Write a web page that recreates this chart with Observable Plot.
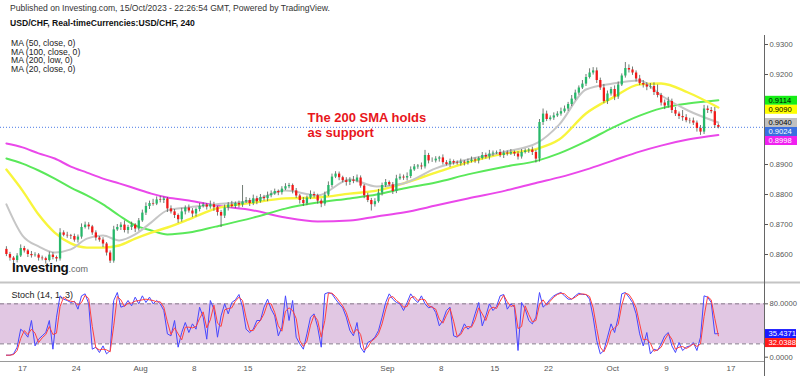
<!DOCTYPE html>
<html><head><meta charset="utf-8">
<script src="https://cdn.jsdelivr.net/npm/d3@7"></script>
<script src="https://cdn.jsdelivr.net/npm/@observablehq/plot@0.6"></script>
<style>
html,body{margin:0;padding:0;background:#fff;}
#wrap{position:relative;width:800px;height:376px;overflow:hidden;font-family:"Liberation Sans",Arial,sans-serif;background:#fff;}
#wrap svg{position:absolute;left:0;}
.ov{position:absolute;white-space:nowrap;line-height:1;}
</style></head>
<body><div id="wrap"></div>
<script>
// ---------- data ----------
const startT = -1.5;          // trading days relative to Mon 17 Jul 2023
const stepT = 1 / 3;          // one candle every 8 hours
const firstOpen = 0.8617;
const closes = [
0.8600,0.8588,0.8580,0.8595,0.8620,0.8612,0.8600,0.8596,0.8598,0.8588,
0.8586,0.8580,0.8598,0.8590,0.8585,0.8672,0.8664,0.8662,0.8660,0.8648,
0.8658,0.8690,0.8698,0.8692,0.8672,0.8655,0.8648,0.8635,0.8605,0.8578,
0.8682,0.8690,0.8698,0.8680,0.8690,0.8698,0.8685,0.8712,0.8738,0.8760,
0.8770,0.8768,0.8782,0.8780,0.8785,0.8752,0.8742,0.8730,0.8716,0.8742,
0.8755,0.8745,0.8735,0.8750,0.8760,0.8765,0.8758,0.8766,0.8756,0.8740,
0.8728,0.8755,0.8765,0.8760,0.8770,0.8765,0.8775,0.8780,0.8770,0.8786,
0.8776,0.8790,0.8786,0.8796,0.8802,0.8810,0.8806,0.8818,0.8826,0.8830,
0.8812,0.8795,0.8780,0.8770,0.8788,0.8800,0.8796,0.8778,0.8768,0.8798,
0.8830,0.8858,0.8868,0.8856,0.8846,0.8840,0.8848,0.8844,0.8855,0.8828,
0.8796,0.8780,0.8766,0.8776,0.8805,0.8830,0.8840,0.8832,0.8810,0.8852,
0.8858,0.8855,0.8860,0.8882,0.8892,0.8895,0.8892,0.8930,0.8912,0.8912,
0.8918,0.8922,0.8906,0.8900,0.8910,0.8905,0.8903,0.8908,0.8905,0.8910,
0.8915,0.8912,0.8920,0.8930,0.8925,0.8935,0.8938,0.8940,0.8930,0.8938,
0.8935,0.8940,0.8935,0.8925,0.8940,0.8945,0.8948,0.8940,0.8918,0.9040,
0.9068,0.9050,0.9055,0.9062,0.9068,0.9076,0.9085,0.9100,0.9118,0.9138,
0.9155,0.9168,0.9190,0.9205,0.9212,0.9180,0.9155,0.9110,0.9135,0.9150,
0.9125,0.9165,0.9195,0.9220,0.9215,0.9205,0.9185,0.9170,0.9165,0.9158,
0.9160,0.9140,0.9130,0.9105,0.9095,0.9110,0.9080,0.9068,0.9060,0.9056,
0.9046,0.9045,0.9038,0.9020,0.9008,0.9085,0.9080,0.9076,0.9030,0.9024];
// upper / lower wick beyond the body, in pips
const wickUp = [
9,7,5,8,12,7,5,10,8,5,7,5,10,8,5,14,7,10,5,8,
7,12,10,8,5,7,5,8,5,7,12,10,8,14,7,10,5,8,10,12,
8,14,10,12,7,5,10,8,5,12,7,10,8,5,10,7,5,12,8,5,
7,10,8,12,5,8,55,10,7,12,8,10,7,12,10,8,5,8,10,7,
5,8,5,10,7,12,8,5,7,10,12,10,8,7,5,10,8,12,10,7,
5,8,7,10,12,8,10,5,8,12,10,7,12,10,8,5,10,17,7,10,
8,5,10,7,8,5,7,10,5,8,10,7,5,10,8,12,7,5,10,8,
7,10,5,8,10,7,5,10,8,10,17,10,7,10,8,12,10,7,12,10,
7,12,10,14,11,10,8,12,10,7,12,10,7,20,12,10,7,12,10,8,
10,12,25,7,10,14,8,10,7,20,10,8,10,7,10,12,10,10,14,5];
const wickDn = [
7,10,12,8,5,7,10,8,5,10,7,12,5,8,10,7,5,8,10,7,
10,7,5,10,8,10,7,12,10,8,7,5,10,8,12,10,12,7,5,8,
10,7,5,8,10,12,7,10,12,8,10,7,12,10,8,5,10,7,12,12,
38,8,10,5,7,10,8,5,10,7,10,5,8,10,7,5,10,8,5,7,
10,8,12,10,7,5,8,10,12,7,5,8,5,10,7,12,10,8,5,7,
10,7,21,8,5,10,7,5,10,7,5,8,10,7,5,8,10,7,10,5,
7,10,8,5,10,7,5,8,10,7,5,8,10,5,7,10,8,5,7,10,
7,5,8,10,7,5,8,10,13,10,10,7,5,8,5,7,5,8,7,5,
7,5,8,5,7,10,8,7,10,7,12,8,5,7,10,8,10,7,10,12,
7,10,8,10,12,7,10,8,10,12,7,10,8,12,11,8,10,7,10,5];
// moving averages, sampled along the same trading-day axis
const maT = [-1.5,0,1.5,3,4.5,6,7.5,9,10.5,12,13.5,15.5,18,21.5,24.5,27.5,30.5,33,35.5,38.5,41.5,45,48,50,52.5,55,57.5,59.5,62,64.83];
const ma200 = [0.8970,0.8957,0.8937,0.8920,0.8893,0.8873,0.8853,0.8837,0.8820,0.8803,0.8790,0.8780,0.8763,0.8747,0.8723,0.8710,0.8713,0.8727,0.8740,0.8763,0.8787,0.8813,0.8840,0.8857,0.8883,0.8913,0.8943,0.8963,0.8983,0.8998];
const ma100 = [0.8920,0.8903,0.8880,0.8853,0.8823,0.8797,0.8767,0.8730,0.8697,0.8680,0.8667,0.8673,0.8693,0.8723,0.8753,0.8773,0.8787,0.8800,0.8820,0.8840,0.8867,0.8893,0.8913,0.8937,0.8977,0.9023,0.9063,0.9087,0.9103,0.9114];
const ma50 = [0.8883,0.8813,0.8733,0.8673,0.8637,0.8623,0.8623,0.8630,0.8653,0.8673,0.8690,0.8717,0.8753,0.8773,0.8787,0.8790,0.8803,0.8813,0.8837,0.8873,0.8907,0.8937,0.8953,0.8983,0.9070,0.9123,0.9167,0.9170,0.9140,0.9090];
const ma20 = [0.8767,0.8663,0.8627,0.8607,0.8617,0.8653,0.8663,0.8647,0.8667,0.8707,0.8747,0.8757,0.8767,0.8780,0.8813,0.8797,0.8850,0.8827,0.8837,0.8887,0.8917,0.8943,0.8973,0.9033,0.9150,0.9170,0.9180,0.9130,0.9080,0.9040];
// stochastic (14,1,3)
const stochK = [
3,3,5,15,42,37,30,55,17,27,32,37,55,12,60,92,87,85,82,84,
72,92,95,80,12,15,7,17,5,10,85,97,75,77,85,77,90,80,92,82,
90,80,85,80,70,35,32,55,15,37,52,37,50,42,75,60,27,85,72,30,
62,80,65,82,86,94,75,42,37,42,55,55,75,87,72,62,32,45,92,55,
85,30,20,12,35,60,65,45,15,95,97,95,87,80,74,60,40,32,52,15,
7,22,25,30,40,60,82,95,87,82,80,70,82,95,87,82,92,80,74,76,
67,47,55,70,75,32,30,37,50,42,47,65,82,47,62,80,70,76,92,94,
72,80,75,10,82,72,55,50,60,97,75,80,87,92,95,97,92,87,87,92,
96,94,94,87,60,25,5,10,30,50,37,60,95,97,90,82,65,35,17,37,
5,12,10,20,32,37,17,7,22,10,15,17,22,10,30,92,90,82,35,35.4371];
const stochD = [
3,3,4,10,28,40,34,42,36,22,29,34,46,34,36,76,90,86,84,83,
78,82,93,88,46,14,11,12,11,8,47,91,86,76,81,81,84,85,86,87,
86,85,83,83,75,53,34,44,35,26,45,45,44,46,58,68,44,56,78,51,
46,71,73,74,84,90,85,59,40,40,49,55,65,81,80,67,47,39,69,74,
70,58,25,16,24,48,63,55,30,55,96,96,91,84,77,67,50,36,42,34,
11,15,24,28,35,50,71,89,91,85,81,75,76,89,91,85,87,86,77,75,
72,57,51,63,73,54,31,34,44,46,45,56,74,65,55,71,75,73,84,93,
83,76,78,43,46,77,64,53,55,79,86,78,84,90,94,96,95,90,87,90,
94,95,94,91,74,43,15,8,20,40,44,49,78,96,94,86,74,50,26,27,
21,9,11,15,26,35,27,12,15,16,13,16,20,16,20,61,91,86,58,32.0388];
const tickT = [0,5,11,16,21,26,34,39,44,49,55,60,66];
const tickLabels = ["17","24","Aug","8","15","22","Sep","8","15","22","Oct","9","17"];
const priceTicks = [0.86,0.87,0.88,0.89,0.92,0.93];
const stochTicks = [0,80];
const stochBand = [20,80];

// ---------- derived rows ----------
const candles = closes.map((c, i) => {
  const o = i ? closes[i - 1] : firstOpen;
  return {t: startT + i * stepT, o, c, h: Math.max(o, c) + wickUp[i] / 10000, l: Math.min(o, c) - wickDn[i] / 10000};
});
const maRows = (arr) => arr.map((v, i) => ({t: maT[i], v}));
const stochRows = stochK.map((k, i) => ({t: startT + i * stepT, k, d: stochD[i]}));

// ---------- scales (pixel calibration) ----------
const FONT = '"Liberation Sans", Arial, sans-serif';
const AX = 7.6;                                   // axis font size
const FR = 764;                                   // right edge of plotting frame
const xPix = d3.scaleLinear().domain([0, 60]).range([22, 666]);
const xDom = [xPix.invert(0), xPix.invert(FR)];
const H1 = 282, P_TOP = 35, P_BOT = 281;
const yPix = d3.scaleLinear().domain([0.86, 0.93]).range([254, 44]);
const yDom = [yPix.invert(P_BOT), yPix.invert(P_TOP)];

function dodge(items, pix, gap) {
  const arr = items.map(d => ({...d, py: pix(d.v)})).sort((a, b) => a.py - b.py);
  let prev = -Infinity;
  for (const d of arr) { const cy = Math.max(d.py, prev + gap); d.dy = cy - d.py; prev = cy; }
  return arr;
}
function labelMarks(items, w, digits) {
  const out = [];
  for (const d of items) {
    out.push(Plot.ruleY([d], {y: "v", stroke: d.bg, strokeWidth: 9, insetLeft: FR + 1, insetRight: -w, dy: d.dy}));
    out.push(Plot.text([d], {y: "v", text: e => e.v.toFixed(digits), frameAnchor: "right", textAnchor: "start", dx: 4, dy: d.dy, fill: d.fg, fontSize: AX}));
  }
  return out;
}

const priceLabels = dodge([
  {v: ma100.at(-1), bg: "#16ee16", fg: "#000"},
  {v: ma50.at(-1),  bg: "#ffff00", fg: "#000"},
  {v: ma20.at(-1),  bg: "#c0c0c0", fg: "#000"},
  {v: closes.at(-1), bg: "#3a6fe0", fg: "#fff"},
  {v: ma200.at(-1), bg: "#f020f0", fg: "#fff"}
], yPix, 9);

const p1 = Plot.plot({
  width: 800, height: H1,
  marginLeft: 0, marginRight: 800 - FR, marginTop: P_TOP, marginBottom: H1 - P_BOT,
  x: {domain: xDom, axis: null},
  y: {domain: yDom},
  style: {fontFamily: FONT, background: "transparent", overflow: "visible", color: "#555"},
  marks: [
    Plot.ruleY([closes.at(-1)], {stroke: "#4a7be6", strokeDasharray: "1,2"}),
    Plot.line(maRows(ma200), {x: "t", y: "v", stroke: "#ea48ea", strokeWidth: 2, curve: "monotone-x"}),
    Plot.line(maRows(ma100), {x: "t", y: "v", stroke: "#5ae85a", strokeWidth: 2, curve: "monotone-x"}),
    Plot.line(maRows(ma50), {x: "t", y: "v", stroke: "#f8f53c", strokeWidth: 2.4, curve: "monotone-x"}),
    Plot.line(maRows(ma20), {x: "t", y: "v", stroke: "#c6c6c6", strokeWidth: 2, curve: "monotone-x"}),
    Plot.ruleX(candles, {x: "t", y1: "l", y2: "h", stroke: "#4d5a52", strokeWidth: 0.8}),
    Plot.ruleX(candles, {x: "t", y1: "o", y2: "c", stroke: d => d.c >= d.o ? "#27b86a" : "#f21818", strokeWidth: 2.3}),
    Plot.ruleX([xDom[1]], {stroke: "#666"}),
    Plot.axisY({anchor: "right", ticks: priceTicks, tickFormat: d => d.toFixed(4), tickSize: 3, tickPadding: 2, fontSize: AX, label: null}),
    ...labelMarks(priceLabels, 33, 4),
    Plot.text(["The 200 SMA holds\nas support"], {frameAnchor: "top-left", dx: 307, dy: 76, textAnchor: "start", lineAnchor: "top", lineHeight: 1.15, fontSize: 13, fontWeight: "bold", fill: "#e8161c"})
  ]
});
p1.style.top = "0px";

// ---------- stochastic panel ----------
const H2 = 95, TOP2 = 281, S_BOT = 80;
const sPix = d3.scaleLinear().domain([0, 100]).range([356.7 - TOP2, 290 - TOP2]);
const sDom = [sPix.invert(S_BOT), sPix.invert(0)];
const stochLabels = dodge([
  {v: stochK.at(-1), bg: "#1a1aff", fg: "#fff"},
  {v: stochD.at(-1), bg: "#ff1a1a", fg: "#fff"}
], sPix, 9);

const p2 = Plot.plot({
  width: 800, height: H2,
  marginLeft: 0, marginRight: 800 - FR, marginTop: 0, marginBottom: H2 - S_BOT,
  x: {domain: xDom},
  y: {domain: sDom},
  style: {fontFamily: FONT, background: "transparent", overflow: "visible", color: "#555"},
  marks: [
    Plot.rect([stochBand], {y1: d => d[0], y2: d => d[1], fill: "#e1c7e3"}),
    Plot.ruleY(stochBand, {stroke: "#85788a", strokeDasharray: "4,3"}),
    Plot.line(stochRows, {x: "t", y: "k", stroke: "#4646ff", strokeWidth: 1}),
    Plot.line(stochRows, {x: "t", y: "d", stroke: "#ff4040", strokeWidth: 1}),
    Plot.ruleY([sPix.invert(1)], {stroke: "#c4c4c4", strokeWidth: 2, insetRight: -(800 - FR)}),
    Plot.ruleY([sDom[0]], {stroke: "#9a9a9a"}),
    Plot.ruleX([xDom[1]], {stroke: "#666", insetBottom: -(H2 - S_BOT)}),
    Plot.axisY({anchor: "right", ticks: stochTicks, tickFormat: d => d.toFixed(4), tickSize: 3, tickPadding: 2, fontSize: AX, label: null}),
    Plot.axisX({anchor: "bottom", ticks: tickT, tickFormat: d => tickLabels[tickT.indexOf(d)], tickSize: 0, tickPadding: 4, fontSize: 8, label: null}),
    ...labelMarks(stochLabels, 32, 4),
    Plot.text(["Stoch (14, 1, 3)"], {frameAnchor: "top-left", dx: 11, dy: 10, textAnchor: "start", fontSize: 9, fill: "#222"})
  ]
});
p2.style.top = TOP2 + "px";

const wrap = document.getElementById("wrap");
wrap.append(p1, p2);

// ---------- header / legend text ----------
function ov(html, css) {
  const d = document.createElement("div");
  d.className = "ov"; d.innerHTML = html; d.style.cssText += css; wrap.append(d);
}
ov("Published on Investing.com, 15/Oct/2023 - 22:26:54 GMT, Powered by TradingView.", "left:10px;top:4px;font-size:8.6px;color:#333;");
ov("USD/CHF, Real-timeCurrencies:USD/CHF, 240", "left:10px;top:19px;font-size:8.6px;font-weight:bold;color:#111;");
ov("MA (50, close, 0)<br>MA (100, close, 0)<br>MA (200, low, 0)<br>MA (20, close, 0)", "left:11px;top:39px;font-size:8.6px;line-height:8.6px;color:#222;");
ov('<span style="font-size:13.5px;font-weight:bold;color:#111;letter-spacing:-0.3px">Investing</span><span style="font-size:9px;color:#666">.com</span>', "left:12px;top:259px;");
</script>
</body></html>
